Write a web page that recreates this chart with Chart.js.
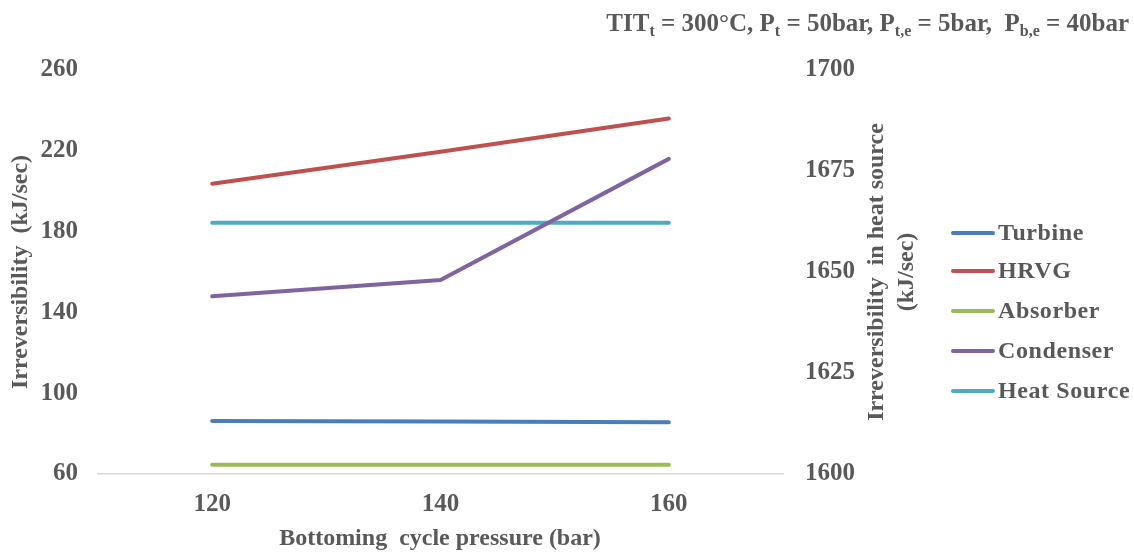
<!DOCTYPE html>
<html><head><meta charset="utf-8">
<script src="https://cdn.jsdelivr.net/npm/chart.js@4.4.1/dist/chart.umd.min.js"></script>
<style>html,body{margin:0;padding:0;background:#fff}#wrap{width:1134px;height:552px;position:relative}</style>
</head><body><div id="wrap"><canvas id="c" width="1134" height="552"></canvas></div>
<script>
const categories = ['120', '140', '160'];
const seriesNames = ['Turbine', 'HRVG', 'Absorber', 'Condenser', 'Heat Source'];
const turbine = [86.2, 86.0, 85.6];
const hrvg = [203.7, 219.5, 236.0];
const absorber = [64.6, 64.6, 64.6];
const condenser = [148.0, 156.0, 216.0];
const heatSource = [1662.2, 1662.2, 1662.2];
const leftTicks = [60, 100, 140, 180, 220, 260];
const rightTicks = [1600, 1625, 1650, 1675, 1700];
const colors = ['#4A7EBB', '#C0504D', '#9BBB59', '#8064A2', '#4BACC6'];

const FONT = '"Liberation Serif", "Times New Roman", serif';
const TXT = '#595959';

function ds(label, data, color, axis) {
  return { label, data, borderColor: color, backgroundColor: color, borderWidth: 4,
    pointRadius: 0, pointHoverRadius: 0, tension: 0, fill: false, yAxisID: axis,
    borderCapStyle: 'round' };
}

const decor = {
  id: 'decor',
  afterDraw(chart) {
    const ctx = chart.ctx;
    ctx.save();
    ctx.fillStyle = TXT;
    ctx.font = 'bold 24px ' + FONT;
    ctx.textBaseline = 'middle';
    ctx.textAlign = 'center';
    // left title
    ctx.save(); ctx.translate(21, 272); ctx.rotate(-Math.PI / 2);
    ctx.fillText('Irreversibility  (kJ/sec)', 0, 0); ctx.restore();
    // right title
    ctx.save(); ctx.translate(877, 272); ctx.rotate(-Math.PI / 2);
    ctx.fillText('Irreversibility  in heat source', 0, 0); ctx.restore();
    ctx.save(); ctx.translate(907, 272); ctx.rotate(-Math.PI / 2);
    ctx.fillText('(kJ/sec)', 0, 0); ctx.restore();
    // x title
    ctx.fillText('Bottoming  cycle pressure (bar)', 440, 539);
    // legend
    const rows = [233, 271, 311, 351, 391];
    ctx.textAlign = 'left';
    if ('letterSpacing' in ctx) ctx.letterSpacing = '0.6px';
    chart.data.datasets.forEach((d, i) => {
      ctx.strokeStyle = d.borderColor; ctx.lineWidth = 4; ctx.lineCap = 'round';
      ctx.beginPath(); ctx.moveTo(953, rows[i]); ctx.lineTo(993, rows[i]); ctx.stroke();
      ctx.fillText(d.label, 998, rows[i] + 1);
    });
    if ('letterSpacing' in ctx) ctx.letterSpacing = '0px';
    // annotation
    const segs = [['TIT', 0], ['t', 1], [' = 300°C, P', 0], ['t', 1], [' = 50bar, P', 0], ['t,e', 1],
      [' = 5bar,  P', 0], ['b,e', 1], [' = 40bar', 0]];
    const mainF = 'bold 25px ' + FONT, subF = 'bold 16px ' + FONT;
    let total = 0;
    segs.forEach(s => { ctx.font = s[1] ? subF : mainF; total += ctx.measureText(s[0]).width; });
    let x = 1129 - total;
    ctx.textBaseline = 'alphabetic';
    segs.forEach(s => {
      ctx.font = s[1] ? subF : mainF;
      ctx.fillText(s[0], x, s[1] ? 36 : 31);
      x += ctx.measureText(s[0]).width;
    });
    ctx.restore();
  }
};

const tickFont = { family: FONT, size: 25, weight: 'bold' };

new Chart(document.getElementById('c'), {
  type: 'line',
  data: {
    labels: categories,
    datasets: [
      ds(seriesNames[0], turbine, colors[0], 'y'),
      ds(seriesNames[1], hrvg, colors[1], 'y'),
      ds(seriesNames[2], absorber, colors[2], 'y'),
      ds(seriesNames[3], condenser, colors[3], 'y'),
      ds(seriesNames[4], heatSource, colors[4], 'y1')
    ]
  },
  options: {
    responsive: false,
    devicePixelRatio: 1,
    animation: false,
    layout: { padding: { top: 70, left: 0, right: 0, bottom: 0 } },
    plugins: { legend: { display: false }, tooltip: { enabled: false } },
    scales: {
      x: {
        offset: true,
        grid: { display: false, drawTicks: false },
        border: { display: true, color: '#D9D9D9', width: 1.5 },
        ticks: { color: TXT, font: tickFont, padding: 16 },
        afterFit: s => { s.height = 78; }
      },
      y: {
        position: 'left', min: 60, max: 260,
        grid: { display: false, drawTicks: false },
        border: { display: false },
        afterBuildTicks: s => { s.ticks = leftTicks.map(v => ({ value: v })); },
        ticks: { color: TXT, font: tickFont, padding: 20, callback: v => String(v) },
        afterFit: s => { s.width = 98; }
      },
      y1: {
        position: 'right', min: 1600, max: 1700,
        grid: { display: false, drawTicks: false },
        border: { display: false },
        afterBuildTicks: s => { s.ticks = rightTicks.map(v => ({ value: v })); },
        ticks: { color: TXT, font: tickFont, padding: 22, callback: v => String(v) },
        afterFit: s => { s.width = 351; }
      }
    }
  },
  plugins: [decor]
});
</script></body></html>
